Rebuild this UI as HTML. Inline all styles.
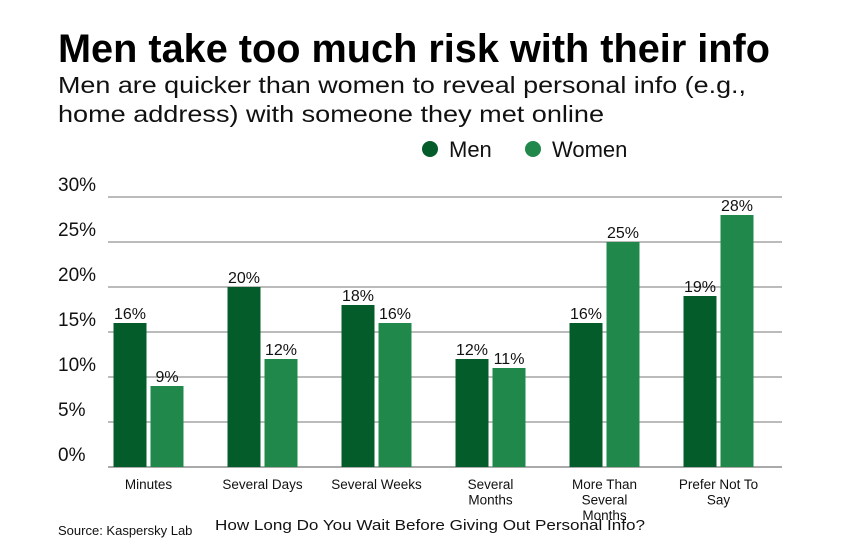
<!DOCTYPE html>
<html><head><meta charset="utf-8"><style>
body{margin:0;background:#fff}
svg{display:block;font-family:"Liberation Sans",sans-serif}
</style></head><body>
<svg id="chart" width="844" height="550" viewBox="0 0 844 550">
<text x="58" y="62" font-size="40" font-weight="bold" textLength="712" lengthAdjust="spacingAndGlyphs" fill="#000">Men take too much risk with their info</text>
<text x="58" y="93" font-size="23" textLength="688" lengthAdjust="spacingAndGlyphs" fill="#111">Men are quicker than women to reveal personal info (e.g.,</text>
<text x="58" y="122" font-size="23" textLength="546" lengthAdjust="spacingAndGlyphs" fill="#111">home address) with someone they met online</text>
<g>
<circle cx="430" cy="149" r="8" fill="#045c2b"/>
<text x="449" y="157" font-size="22" fill="#111">Men</text>
<circle cx="533" cy="149" r="8" fill="#21884c"/>
<text x="552" y="157" font-size="22" fill="#111">Women</text>
</g>
<g id="grid"></g>
<g id="ylab"></g>
<g id="bars"></g>
<g id="xlab"></g>
<text x="58" y="535" font-size="13" fill="#111">Source: Kaspersky Lab</text>
<text x="215" y="530" font-size="15" textLength="430" lengthAdjust="spacingAndGlyphs" fill="#111">How Long Do You Wait Before Giving Out Personal Info?</text>
</svg>
<script>
const categories=[["Minutes"],["Several Days"],["Several Weeks"],["Several","Months"],["More Than","Several","Months"],["Prefer Not To","Say"]];
const menValues=[16,20,18,12,16,19];
const womenValues=[9,12,16,11,25,28];
const yTicks=[0,5,10,15,20,25,30];
const NS="http://www.w3.org/2000/svg";
function y(v){return 467-v*9;}
function xGroup(i){return 113.5+i*114;}
function mk(tag,attrs,parent,txt){const e=document.createElementNS(NS,tag);for(const k in attrs)e.setAttribute(k,attrs[k]);if(txt!==undefined)e.textContent=txt;parent.appendChild(e);return e;}
const grid=document.getElementById('grid'),ylab=document.getElementById('ylab'),bars=document.getElementById('bars'),xlab=document.getElementById('xlab');
yTicks.forEach(t=>{
 const l=mk('line',{x1:108,x2:782,y1:y(t),y2:y(t),stroke:t===0?'#aaa':'#777','stroke-width':t===0?2:1},grid);
 
 
 const tx=mk('text',{x:58,y:y(t)-6,'font-size':19,fill:'#111'},ylab,t+'%');
 
 
});
categories.forEach((c,i)=>{
 const x0=xGroup(i),w=33;
 [[menValues[i],x0,'#045c2b','men'],[womenValues[i],x0+37,'#21884c','women']].forEach(([v,x,col,s])=>{
  const r=mk('rect',{x:x,y:y(v),width:w,height:y(0)-y(v),fill:col},bars);
  
  
  const t=mk('text',{x:x+w/2,y:y(v)-4,'font-size':16,'text-anchor':'middle',fill:'#111'},bars,v+'%');
  
  
 });
 c.forEach((line,j)=>{
  const t=mk('text',{x:x0+35,y:489+j*15.5,'font-size':13.5,'text-anchor':'middle',fill:'#111'},xlab,line);
  
  
 });
});
</script>
</body></html>
